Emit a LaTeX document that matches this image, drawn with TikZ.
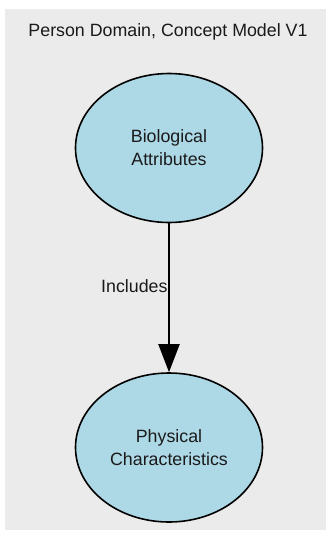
\documentclass[tikz,border=0pt]{standalone}
\usepackage{fontspec}
\setmainfont{Liberation Sans}
\usetikzlibrary{arrows.meta,shapes.geometric}

\definecolor{panelgray}{HTML}{EBEBEB}
\definecolor{conceptblue}{HTML}{ADD8E6}
\definecolor{inktext}{HTML}{1A1A1A}

\tikzset{
    concept/.style={draw=black, line width=1.6pt, fill=conceptblue, ellipse,
        minimum width=187pt, minimum height=149pt, inner sep=0pt,
        align=center, text=inktext, font=\fontsize{17.8}{23}\selectfont},
    relation/.style={line width=2pt, -{Triangle[width=21pt,length=28pt]}}
}

\begin{document}
\begin{tikzpicture}[x=1pt, y=-1pt]

    \useasboundingbox (0,0) rectangle (327,536);
    \fill[panelgray] (5,9) rectangle (326,530);

    \node[text=inktext, font=\fontsize{17.8}{22}\selectfont] (title) at (168,32) {Person Domain, Concept Model V1};

    \node[concept] (bio) at (169,148) {Biological\\Attributes};
    \node[concept] (phys) at (169,447.5) {Physical\\Characteristics};

	\draw[relation] (bio) -- (phys)
	    node[pos=0.42, anchor=east, inner sep=0pt, xshift=-0.5pt, text=inktext,
	         font=\fontsize{17.8}{22}\selectfont] (inc) {Includes};

\end{tikzpicture}
\end{document}
